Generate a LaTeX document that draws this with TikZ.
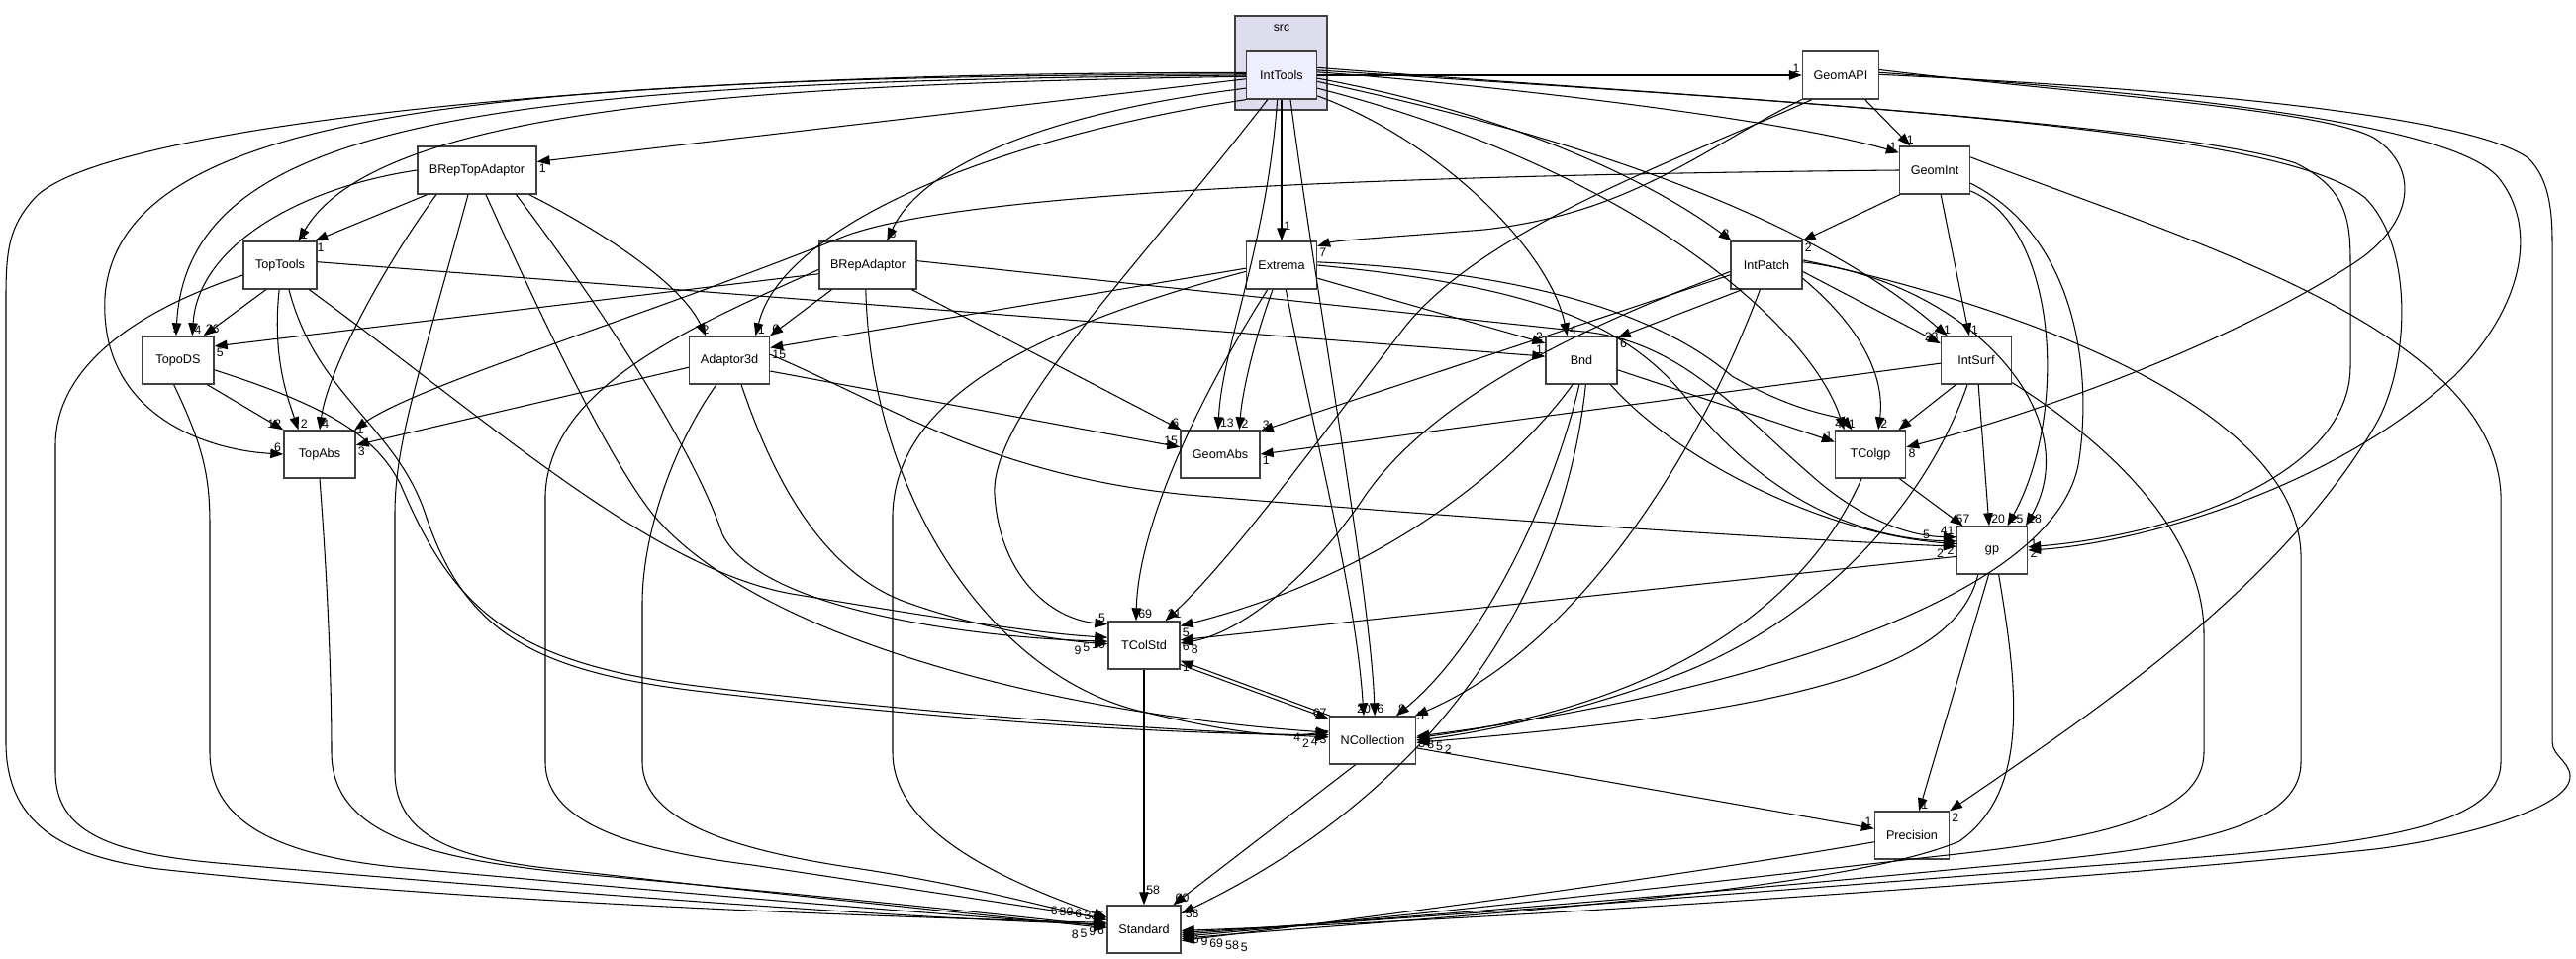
\documentclass[tikz,border=0pt]{standalone}
\usepackage{fontspec}
\setmainfont{Liberation Sans}
\usetikzlibrary{arrows.meta}
\definecolor{srcfill}{RGB}{221,221,238}
\definecolor{curfill}{RGB}{238,238,255}
\definecolor{boxline}{RGB}{64,64,64}
\tikzset{
  dir/.style={draw=boxline,line width=0.8pt,fill=white,minimum width=1.44cm,minimum height=0.96cm,inner sep=0pt,font=\fontsize{7.2}{8}\selectfont},
  dep/.style={draw=black,line width=0.6pt,-{Triangle[length=0.26cm,width=0.19cm]}},
  lbl/.style={font=\fontsize{7}{8}\selectfont,inner sep=1pt}
}
\begin{document}
\begin{tikzpicture}[x=0.02cm,y=-0.02cm]
\useasboundingbox (0,0) rectangle (2603,969);
% the src cluster
\draw[draw=boxline,fill=srcfill,line width=0.8pt] (1248,16) rectangle (1341,111);
\node[font=\fontsize{7}{8}\selectfont] (srcname) at (1295,28) {src};
% directories
\node[dir,fill=curfill,minimum width=1.42cm] (IntTools) at (1295,76) {IntTools};
\node[dir,minimum width=1.54cm] (GeomAPI) at (1860,76) {GeomAPI};
\node[dir,minimum width=2.4cm] (BRepTopAdaptor) at (482,172) {BRepTopAdaptor};
\node[dir,minimum width=1.42cm] (GeomInt) at (1955,172) {GeomInt};
\node[dir,minimum width=1.48cm] (TopTools) at (283,268) {TopTools};
\node[dir,minimum width=1.96cm] (BRepAdaptor) at (877,268) {BRepAdaptor};
\node[dir,minimum width=1.42cm] (Extrema) at (1295,268) {Extrema};
\node[dir] (IntPatch) at (1785,268) {IntPatch};
\node[dir] (TopoDS) at (180,364) {TopoDS};
\node[dir,minimum width=1.62cm] (Adaptor3d) at (737,364) {Adaptor3d};
\node[dir] (Bnd) at (1598,364) {Bnd};
\node[dir,minimum width=1.42cm] (IntSurf) at (1997,364) {IntSurf};
\node[dir] (TopAbs) at (323,459) {TopAbs};
\node[dir,minimum width=1.6cm] (GeomAbs) at (1233,459) {GeomAbs};
\node[dir,minimum width=1.42cm] (TColgp) at (1890,459) {TColgp};
\node[dir,minimum width=1.42cm] (gp) at (2013,556) {gp};
\node[dir] (TColStd) at (1156,652) {TColStd};
\node[dir,minimum width=1.74cm] (NCollection) at (1387,748) {NCollection};
\node[dir,minimum width=1.5cm] (Precision) at (1932,844) {Precision};
\node[dir,minimum width=1.48cm] (Standard) at (1156,939) {Standard};

% IntTools
\draw[dep] (IntTools.186) -- (BRepTopAdaptor.8) node[lbl,at end,anchor=north west]{1};
\draw[dep] (IntTools.182) .. controls (750,85) and (380,110) .. (TopTools.53) node[lbl,at end,anchor=south west]{1};
\draw[dep] (IntTools.180) .. controls (500,82) and (190,120) .. (TopoDS.95) node[lbl,at end,anchor=south]{9};
\draw[dep] (IntTools.178) .. controls (500,78) and (120,110) .. (106,300) .. controls (100,420) and (210,455) .. (TopAbs.180) node[lbl,at end,anchor=south east]{6};
\draw[dep] (IntTools.176) .. controls (600,72) and (100,130) .. (35,200) .. controls (10,228) and (6,250) .. (6,300) -- (6,750) .. controls (6,830) and (60,865) .. (160,878) .. controls (500,915) and (950,928) .. (Standard.170) node[lbl,at end,anchor=south east]{335};
\draw[dep] (IntTools.south west) .. controls (1000,140) and (790,230) .. (Adaptor3d.43) node[lbl,at end,anchor=south west]{1};
\draw[dep] (IntTools.200) .. controls (1050,115) and (930,170) .. (BRepAdaptor.52) node[lbl,at end,anchor=south west]{6};
\draw[dep] (IntTools.south) -- (Extrema.north) node[lbl,at end,anchor=south west,yshift=5pt]{1};
\draw[dep] (IntTools.260) .. controls (1280,250) and (1235,350) .. (GeomAbs.95) node[lbl,at end,anchor=south west]{13};
\draw[dep] (IntTools.240) .. controls (1150,270) and (1000,420) .. (1005,500) .. controls (1010,580) and (1060,625) .. (TColStd.150) node[lbl,at end,anchor=south east]{5};
\draw[dep] (IntTools.290) .. controls (1330,300) and (1385,600) .. (NCollection.85) node[lbl,at end,anchor=south west]{6};
\draw[dep] (IntTools.330) .. controls (1450,140) and (1565,250) .. (Bnd.120) node[lbl,at end,anchor=south west]{4};
\draw[dep] (IntTools.355) .. controls (1500,110) and (1650,170) .. (IntPatch.145) node[lbl,at end,anchor=south east]{3};
\draw[dep] (IntTools.5) .. controls (1500,85) and (1800,120) .. (GeomInt.154) node[lbl,at end,anchor=south east]{1};
\draw[dep] (IntTools.east) -- (GeomAPI.west) node[lbl,at end,anchor=south east]{1};
\draw[dep] (IntTools.350) .. controls (1600,140) and (1830,220) .. (IntSurf.140) node[lbl,at end,anchor=south]{1};
\draw[dep] (IntTools.340) .. controls (1650,170) and (1830,330) .. (TColgp.137) node[lbl,at end,anchor=south east]{4};
\draw[dep] (IntTools.8) .. controls (1700,95) and (2200,125) .. (2320,165) .. controls (2370,190) and (2375,220) .. (2375,265) -- (2375,370) .. controls (2375,480) and (2200,540) .. (gp.5) node[lbl,at end,anchor=north west]{2};
\draw[dep] (IntTools.12) .. controls (1800,105) and (2300,125) .. (2390,200) .. controls (2440,250) and (2435,370) .. (2400,430) .. controls (2300,600) and (2100,730) .. (Precision.33) node[lbl,at end,anchor=north west]{2};

% GeomAPI
\draw[dep] (GeomAPI.315) -- (GeomInt.135) node[lbl,at end,anchor=south]{1};
\draw[dep] (GeomAPI.212) .. controls (1720,150) and (1650,215) .. (1500,232) .. controls (1400,240) and (1350,243) .. (Extrema.28) node[lbl,at end,anchor=north west]{7};
\draw[dep] (GeomAPI.220) .. controls (1700,160) and (1500,230) .. (1420,330) .. controls (1350,420) and (1250,560) .. (TColStd.49) node[lbl,at end,anchor=south west]{31};
\draw[dep] (GeomAPI.8) .. controls (2100,95) and (2350,110) .. (2400,140) .. controls (2445,170) and (2440,225) .. (2380,265) .. controls (2250,350) and (2050,420) .. (TColgp.11) node[lbl,at end,anchor=north west]{8};
\draw[dep] (GeomAPI.4) .. controls (2200,95) and (2480,125) .. (2525,180) .. controls (2565,230) and (2550,310) .. (2480,380) .. controls (2350,500) and (2150,550) .. (gp.0) node[lbl,at end,anchor=south west]{1};
\draw[dep] (GeomAPI.1) .. controls (2250,92) and (2500,120) .. (2555,160) .. controls (2575,180) and (2579,210) .. (2579,245) -- (2579,750) .. controls (2579,765) and (2602,772) .. (2596,790) .. controls (2585,820) and (2480,848) .. (2400,858) .. controls (2100,890) and (1500,930) .. (Standard.358) node[lbl,at end,anchor=north west]{5};

% GeomInt
\draw[dep] (GeomInt.215) -- (IntPatch.34) node[lbl,at end,anchor=north west]{2};
\draw[dep] (GeomInt.284) -- (IntSurf.106) node[lbl,at end,anchor=south west]{1};
\draw[dep] (GeomInt.west) .. controls (1300,178) and (950,200) .. (850,240) .. controls (650,320) and (420,390) .. (TopAbs.35) node[lbl,at end,anchor=west]{1};
\draw[dep] (GeomInt.330) .. controls (2080,230) and (2090,420) .. (gp.58) node[lbl,at end,anchor=south west]{25};
\draw[dep] (GeomInt.340) .. controls (2100,240) and (2115,380) .. (2100,470) .. controls (2070,620) and (1700,710) .. (NCollection.5) node[lbl,at end,anchor=north west]{3};
\draw[dep] (GeomInt.20) .. controls (2200,240) and (2520,330) .. (2527,500) -- (2527,770) .. controls (2527,835) and (2400,852) .. (2200,868) .. controls (1800,900) and (1400,930) .. (Standard.355) node[lbl,at end,anchor=north west,xshift=5pt]{6};

% TopTools
\draw[dep] (TopTools.240) -- (TopoDS.44) node[lbl,at end,anchor=south west]{26};
\draw[dep] (TopTools.268) .. controls (275,360) and (290,400) .. (TopAbs.131) node[lbl,at end,anchor=south west]{2};
\draw[dep] (TopTools.5) -- (Bnd.174) node[lbl,at end,anchor=south east]{1};
\draw[dep] (TopTools.195) .. controls (120,320) and (56,380) .. (56,450) -- (56,780) .. controls (56,840) and (110,862) .. (220,872) .. controls (600,905) and (950,930) .. (Standard.172) node[lbl,at end,anchor=north east]{6};
\draw[dep] (TopTools.320) .. controls (500,430) and (660,575) .. (800,600) .. controls (950,625) and (1050,640) .. (TColStd.168) node[lbl,at end,anchor=north east]{10};
\draw[dep] (TopTools.290) .. controls (320,400) and (400,430) .. (430,520) .. controls (470,640) and (540,680) .. (720,700) .. controls (1000,732) and (1200,742) .. (NCollection.173) node[lbl,at end,anchor=north east,xshift=-5pt]{4};

% TopoDS
\draw[dep] (TopoDS.320) -- (TopAbs.146) node[lbl,at end,anchor=south east]{12};
\draw[dep] (TopoDS.260) .. controls (205,450) and (212,480) .. (212,530) -- (212,760) .. controls (212,840) and (300,868) .. (420,878) .. controls (750,908) and (1000,928) .. (Standard.174) node[lbl,at end,anchor=north east,xshift=-5pt]{9};
\draw[dep] (TopoDS.345) .. controls (330,410) and (380,440) .. (405,490) .. controls (460,620) and (520,672) .. (720,695) .. controls (1000,728) and (1200,738) .. (NCollection.176) node[lbl,at end,anchor=north east,xshift=-10pt]{2};

% TopAbs
\draw[dep] (TopAbs.south) .. controls (332,600) and (335,700) .. (335,760) .. controls (335,850) and (450,872) .. (620,886) .. controls (900,912) and (1050,928) .. (Standard.176) node[lbl,at end,anchor=north east,xshift=-10pt]{5};

% BRepTopAdaptor
\draw[dep] (BRepTopAdaptor.206) -- (TopTools.35) node[lbl,at end,anchor=north west]{1};
\draw[dep] (BRepTopAdaptor.west) .. controls (300,190) and (200,250) .. (TopoDS.60) node[lbl,at end,anchor=south west]{4};
\draw[dep] (BRepTopAdaptor.211) .. controls (380,280) and (330,380) .. (TopAbs.90) node[lbl,at end,anchor=south west]{4};
\draw[dep] (BRepTopAdaptor.250) .. controls (420,390) and (399,450) .. (399,520) -- (399,780) .. controls (399,850) and (470,870) .. (580,880) .. controls (800,905) and (1000,925) .. (Standard.178) node[lbl,at end,anchor=north east,xshift=-15pt]{8};
\draw[dep] (BRepTopAdaptor.290) .. controls (560,350) and (620,470) .. (660,520) .. controls (760,640) and (1050,720) .. (NCollection.170) node[lbl,at end,anchor=north east]{3};
\draw[dep] (BRepTopAdaptor.328) .. controls (600,300) and (700,450) .. (730,540) .. controls (770,620) and (1000,645) .. (TColStd.174) node[lbl,at end,anchor=north east,xshift=-9pt]{5};
\draw[dep] (BRepTopAdaptor.335) .. controls (620,240) and (690,290) .. (Adaptor3d.134) node[lbl,at end,anchor=south]{2};

% Adaptor3d
\draw[dep] (Adaptor3d.190) -- (TopAbs.14) node[lbl,at end,anchor=north west]{3};
\draw[dep] (Adaptor3d.345) -- (GeomAbs.170) node[lbl,at end,anchor=south east]{15};
\draw[dep] (Adaptor3d.8) .. controls (900,410) and (1000,480) .. (1200,500) .. controls (1500,525) and (1800,545) .. (gp.174) node[lbl,at end,anchor=north east,xshift=-6pt]{2};
\draw[dep] (Adaptor3d.242) .. controls (680,450) and (649,540) .. (649,610) -- (649,770) .. controls (649,835) and (760,862) .. (870,878) .. controls (980,895) and (1050,915) .. (Standard.166) node[lbl,at end,anchor=south east,xshift=-13pt]{6};
\draw[dep] (Adaptor3d.296) .. controls (780,480) and (830,580) .. (920,610) .. controls (1000,638) and (1080,648) .. (TColStd.178) node[lbl,at end,anchor=north east,xshift=-14pt]{9};

% BRepAdaptor
\draw[dep] (BRepAdaptor.190) -- (TopoDS.21) node[lbl,at end,anchor=north west]{5};
\draw[dep] (BRepAdaptor.214) -- (Adaptor3d.31) node[lbl,at end,anchor=south west]{6};
\draw[dep] (BRepAdaptor.331) -- (GeomAbs.148) node[lbl,at end,anchor=south east]{6};
\draw[dep] (BRepAdaptor.5) -- (1600,335) .. controls (1700,345) and (1760,420) .. (1830,480) .. controls (1880,525) and (1930,542) .. (gp.160) node[lbl,at end,anchor=south east]{41};
\draw[dep] (BRepAdaptor.185) .. controls (700,330) and (555,390) .. (551,500) -- (551,770) .. controls (551,835) and (650,860) .. (760,874) .. controls (900,895) and (1050,918) .. (Standard.164) node[lbl,at end,anchor=south east,xshift=-18pt]{30};
\draw[dep] (BRepAdaptor.265) .. controls (880,500) and (1000,680) .. (1150,718) .. controls (1250,742) and (1300,746) .. (NCollection.168) node[lbl,at end,anchor=north east,xshift=-15pt]{4};

% Extrema
\draw[dep] (Extrema.185) -- (Adaptor3d.17) node[lbl,at end,anchor=north west]{15};
\draw[dep] (Extrema.240) .. controls (1200,420) and (1150,540) .. (TColStd.108) node[lbl,at end,anchor=south west]{69};
\draw[dep] (Extrema.250) .. controls (1265,350) and (1255,400) .. (GeomAbs.52) node[lbl,at end,anchor=south west]{2};
\draw[dep] (Extrema.280) .. controls (1330,450) and (1370,600) .. (NCollection.110) node[lbl,at end,anchor=south]{20};
\draw[dep] (Extrema.340) -- (Bnd.155) node[lbl,at end,anchor=south east]{2};
\draw[dep] (Extrema.5) .. controls (1550,275) and (1680,320) .. (1750,380) .. controls (1820,420) and (1860,420) .. (TColgp.127) node[lbl,at end,anchor=south]{1};
\draw[dep] (Extrema.0) .. controls (1560,290) and (1650,330) .. (1710,410) .. controls (1800,520) and (1900,545) .. (gp.166) node[lbl,at end,anchor=south east,xshift=-14pt]{5};
\draw[dep] (Extrema.190) .. controls (1050,330) and (905,400) .. (902,520) -- (902,760) .. controls (902,835) and (1000,885) .. (Standard.162) node[lbl,at end,anchor=south east,xshift=-27pt]{6};

% Bnd
\draw[dep] (Bnd.345) -- (TColgp.161) node[lbl,at end,anchor=south east]{1};
\draw[dep] (Bnd.320) .. controls (1700,470) and (1850,540) .. (gp.170) node[lbl,at end,anchor=north east]{2};
\draw[dep] (Bnd.250) .. controls (1530,470) and (1400,580) .. (TColStd.28) node[lbl,at end,anchor=north west]{5};
\draw[dep] (Bnd.265) .. controls (1570,500) and (1500,650) .. (NCollection.46) node[lbl,at end,anchor=south west]{8};
\draw[dep] (Bnd.280) .. controls (1580,600) and (1450,800) .. (Standard.23) node[lbl,at end,anchor=west,xshift=1pt]{58};

% IntPatch
\draw[dep] (IntPatch.195) -- (GeomAbs.30) node[lbl,at end,anchor=south west]{3};
\draw[dep] (IntPatch.225) -- (Bnd.32) node[lbl,at end,anchor=north west]{6};
\draw[dep] (IntPatch.350) -- (IntSurf.155) node[lbl,at end,anchor=south east]{23};
\draw[dep] (IntPatch.340) .. controls (1880,330) and (1905,380) .. (TColgp.72) node[lbl,at end,anchor=south west]{2};
\draw[dep] (IntPatch.190) .. controls (1600,330) and (1450,400) .. (1380,500) .. controls (1320,590) and (1250,640) .. (TColStd.3) node[lbl,at end,anchor=north west,xshift=5pt]{8};
\draw[dep] (IntPatch.255) .. controls (1720,450) and (1600,650) .. (NCollection.30) node[lbl,at end,anchor=west]{5};
\draw[dep] (IntPatch.5) .. controls (1990,285) and (2110,420) .. (gp.36) node[lbl,at end,anchor=south west]{18};
\draw[dep] (IntPatch.8) .. controls (2000,300) and (2320,400) .. (2325,560) -- (2325,770) .. controls (2325,840) and (2200,858) .. (2000,876) .. controls (1700,905) and (1400,928) .. (Standard.352) node[lbl,at end,anchor=north west,xshift=10pt]{9};

% IntSurf
\draw[dep] (IntSurf.185) -- (GeomAbs.0) node[lbl,at end,anchor=north west]{1};
\draw[dep] (IntSurf.230) -- (TColgp.41) node[lbl,at end,anchor=south west]{1};
\draw[dep] (IntSurf.275) -- (gp.97) node[lbl,at end,anchor=south west]{20};
\draw[dep] (IntSurf.250) .. controls (1950,500) and (1850,620) .. (1700,680) .. controls (1600,718) and (1500,740) .. (NCollection.0) node[lbl,at end,anchor=north west,xshift=10pt]{5};
\draw[dep] (IntSurf.328) .. controls (2150,460) and (2227,550) .. (2227,640) -- (2227,760) .. controls (2227,830) and (2100,850) .. (1950,866) .. controls (1700,895) and (1400,928) .. (Standard.349) node[lbl,at end,anchor=north west,xshift=15pt]{69};

% TColgp
\draw[dep] (TColgp.320) -- (gp.140) node[lbl,at end,anchor=south]{57};
\draw[dep] (TColgp.250) .. controls (1830,600) and (1700,710) .. (NCollection.3) node[lbl,at end,anchor=north west,xshift=5pt]{8};

% gp
\draw[dep] (gp.190) -- (TColStd.8) node[lbl,at end,anchor=north west]{6};
\draw[dep] (gp.262) -- (Precision.74) node[lbl,at end,anchor=south west]{1};
\draw[dep] (gp.240) .. controls (1975,680) and (1800,720) .. (NCollection.357) node[lbl,at end,anchor=north west,xshift=15pt]{2};
\draw[dep] (gp.285) .. controls (2040,700) and (2050,800) .. (1980,850) .. controls (1850,905) and (1400,930) .. (Standard.346) node[lbl,at end,anchor=north west,xshift=24pt]{58};

% Precision
\draw[dep] (Precision.190) .. controls (1700,885) and (1400,925) .. (Standard.343) node[lbl,at end,anchor=north west,xshift=33pt]{5};

% NCollection
\draw[dep] (NCollection.150) -- (TColStd.337) node[lbl,at end,anchor=north west]{1};
\draw[dep] (NCollection.235) -- (Standard.40) node[lbl,at end,anchor=south west]{60};
\draw[dep] (NCollection.350) -- (Precision.170) node[lbl,at end,anchor=south east]{1};

% TColStd
\draw[dep] (TColStd.332) -- (NCollection.154) node[lbl,at end,anchor=south east]{67};
\draw[dep] (TColStd.south) -- (Standard.north) node[lbl,at end,anchor=south west,yshift=5pt]{58};
\end{tikzpicture}
\end{document}
